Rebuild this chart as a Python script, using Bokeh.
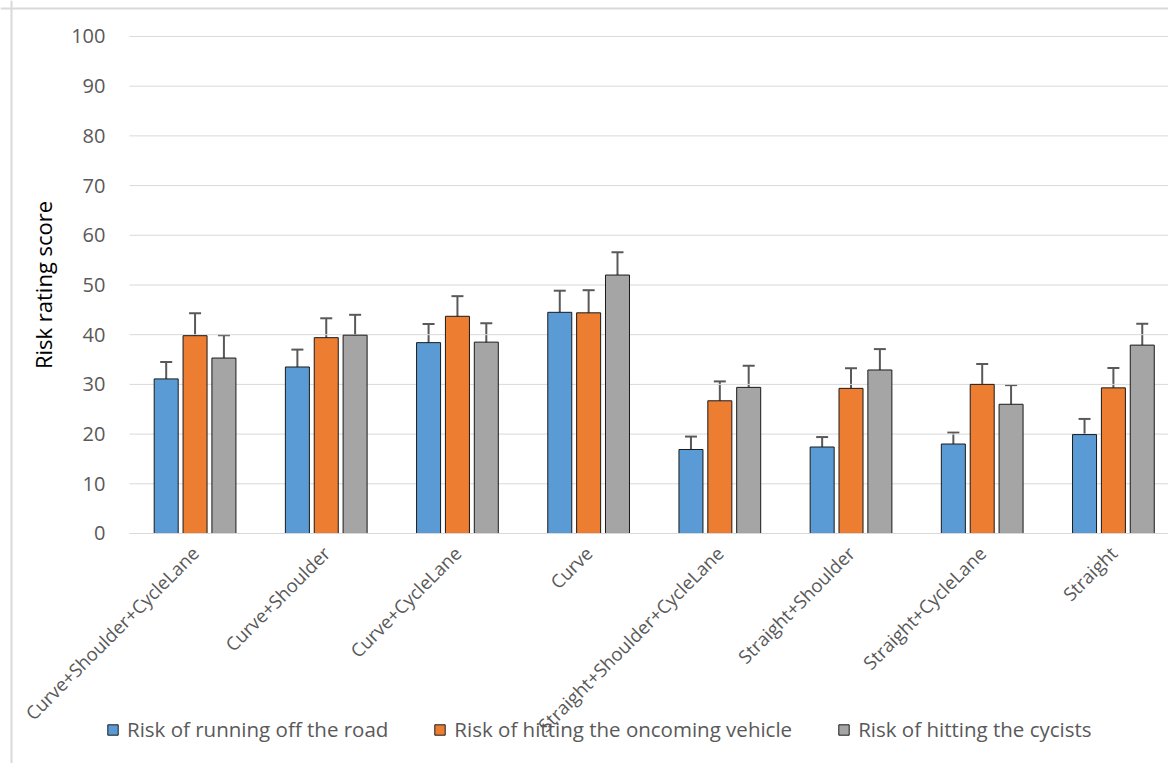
from bokeh.plotting import figure
from bokeh.models import ColumnDataSource, Range1d, FixedTicker, Whisker, TeeHead, Legend, LegendItem, Span
from bokeh.transform import dodge
from bokeh.embed import file_html
from bokeh.resources import INLINE
import math

categories = ["Curve+Shoulder+CycleLane", "Curve+Shoulder", "Curve+CycleLane", "Curve",
              "Straight+Shoulder+CycleLane", "Straight+Shoulder", "Straight+CycleLane", "Straight"]
series_names = ["Risk of running off the road", "Risk of hitting the oncoming vehicle", "Risk of hitting the cycists"]
run_off = [31.1, 33.5, 38.4, 44.5, 16.9, 17.4, 18.0, 19.9]
run_off_err = [3.4, 3.5, 3.75, 4.35, 2.6, 2.0, 2.3, 3.15]
oncoming = [39.8, 39.4, 43.7, 44.4, 26.7, 29.2, 30.0, 29.3]
oncoming_err = [4.5, 3.9, 4.05, 4.55, 3.9, 4.05, 4.1, 4.0]
cyclists = [35.3, 39.9, 38.5, 52.0, 29.4, 32.9, 26.0, 37.9]
cyclists_err = [4.6, 4.1, 3.8, 4.6, 4.35, 4.2, 3.85, 4.3]
y_ticks = [0, 10, 20, 30, 40, 50, 60, 70, 80, 90, 100]

colors = ["#5B9BD5", "#ED7D31", "#A5A5A5"]
offsets = [-0.22, 0.0, 0.22]
FONT = "Open Sans"
TXT = "#595959"
X_START, X_END = -0.983, 7.92
Y_START, Y_END = -46.28, 107.24

xpos = [i + 0.5 for i in range(len(categories))]

# the whole canvas is the frame; axes are pinned at x=0 / y=0
p = figure(width=1168, height=763, output_backend="svg", toolbar_location=None,
           x_range=Range1d(X_START, X_END), y_range=Range1d(Y_START, Y_END),
           min_border_left=0, min_border_right=0, min_border_top=0, min_border_bottom=0)
p.outline_line_color = None
p.background_fill_color = "white"

# chart-area border (left and top edges visible in the reference)
p.add_layout(Span(location=X_START + 11 / 131.19, dimension="height", line_color="#d9d9d9", line_width=2))
p.add_layout(Span(location=Y_END - 8 / 4.97, dimension="width", line_color="#d9d9d9", line_width=2))

# horizontal grid lines (limited to the plotting area)
p.segment(x0=0, x1=X_END, y0=y_ticks, y1=y_ticks, line_color="#d9d9d9", line_width=1)

items = []
for vals, errs, name, col, off in zip([run_off, oncoming, cyclists],
                                      [run_off_err, oncoming_err, cyclists_err],
                                      series_names, colors, offsets):
    src = ColumnDataSource(dict(x=xpos, top=vals,
                                upper=[v + e for v, e in zip(vals, errs)],
                                lower=[v - e for v, e in zip(vals, errs)]))
    r = p.vbar(x=dodge("x", off), top="top", bottom=0, width=0.183, source=src,
               fill_color=col, line_color="#1a1a1a", line_width=1)
    w = Whisker(base=dodge("x", off), upper="upper", lower="lower", source=src,
                line_color="#595959", line_width=2,
                upper_head=TeeHead(size=12, line_color="#595959", line_width=2),
                lower_head=TeeHead(size=12, line_color="#595959", line_width=2))
    p.add_layout(w)
    items.append(LegendItem(label=name, renderers=[r]))

p.xgrid.grid_line_color = None
p.ygrid.grid_line_color = None

# x axis
p.xaxis.fixed_location = 0
p.xaxis.bounds = (0, X_END)
p.xaxis.ticker = FixedTicker(ticks=xpos)
p.xaxis.major_label_overrides = {x: c for x, c in zip(xpos, categories)}
p.xaxis.major_label_orientation = math.pi / 4
p.xaxis.major_label_text_font = FONT
p.xaxis.major_label_text_font_size = "18.5px"
p.xaxis.major_label_text_color = TXT
p.xaxis.major_tick_line_color = None
p.xaxis.minor_tick_line_color = None
p.xaxis.axis_line_color = "#d9d9d9"
p.xaxis.major_label_standoff = 10

# y axis
p.yaxis.fixed_location = 0
p.yaxis.bounds = (0, 100)
p.yaxis.ticker = FixedTicker(ticks=y_ticks)
p.yaxis.major_label_text_font = FONT
p.yaxis.major_label_text_font_size = "20px"
p.yaxis.major_label_text_color = TXT
p.yaxis.major_tick_line_color = None
p.yaxis.minor_tick_line_color = None
p.yaxis.axis_line_color = None
p.yaxis.major_label_standoff = 18
p.yaxis.axis_label = "Risk rating score"
p.yaxis.axis_label_text_font = FONT
p.yaxis.axis_label_text_font_size = "22px"
p.yaxis.axis_label_text_font_style = "normal"
p.yaxis.axis_label_text_color = "black"
p.yaxis.axis_label_standoff = 10

legend = Legend(items=items, orientation="horizontal", location=(106, 20),
                padding=0, margin=0, spacing=45, label_standoff=8,
                glyph_width=13, glyph_height=13,
                label_text_font=FONT, label_text_font_size="20.5px", label_text_color=TXT,
                border_line_color=None, background_fill_alpha=0)
p.add_layout(legend, "center")

open("out.html", "w").write(file_html(p, INLINE))
